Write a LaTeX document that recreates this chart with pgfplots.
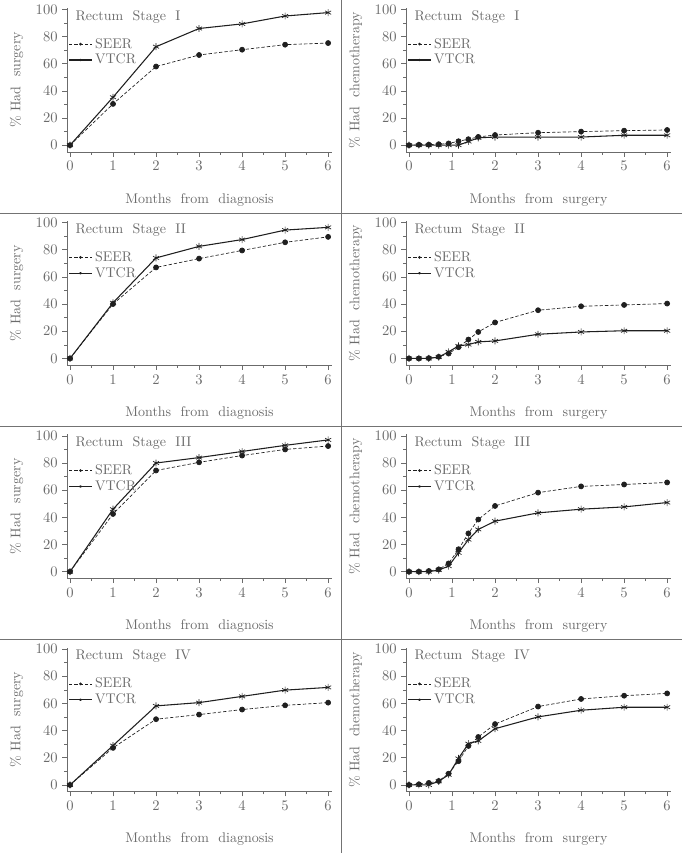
\documentclass[border=0pt]{standalone}
\usepackage{pgfplots}
\pgfplotsset{compat=1.18}

\definecolor{txt}{gray}{0.42}
\definecolor{ink}{gray}{0.12}
\definecolor{frame}{gray}{0.45}

\pgfplotsset{
  panel/.style={
    scale only axis, width=198.75pt, height=108pt,
    xmin=-0.07, xmax=6.09, ymin=-5, ymax=101,
    axis x line*=bottom, axis y line*=left,
    axis line style={txt, line width=0.5pt},
    xtick={0,...,6}, ytick={0,20,...,100},
    minor xtick={0.5,1.5,...,5.5}, minor ytick={10,30,...,90},
    tick align=outside, tick style={txt, line width=0.5pt},
    major tick length=3.5pt, minor tick length=2pt,
    ticklabel style={font=\fontsize{10.5}{12}\selectfont, text=txt},
    label style={font=\fontsize{10.5}{12}\selectfont, text=txt},
    xlabel style={at={(axis description cs:0.5,-0.33)}, anchor=center},
    ylabel style={at={(axis description cs:-0.19,0.5)}, anchor=center},
    clip=false,
    legend style={draw=none, fill=none, at={(axis description cs:0.0,0.82)}, anchor=north west,
      font=\fontsize{10.5}{12}\selectfont, text=txt, row sep=-1pt, inner sep=1pt},
    legend cell align=left,
  },
  seer/.style={ink, line width=0.5pt, dash pattern=on 2.5pt off 1.5pt, mark=*, mark size=1.9pt,
    mark options={solid, fill=ink}},
  vtcr/.style={ink, line width=0.8pt, mark=asterisk, mark size=2.6pt, mark options={solid, line width=0.5pt}},
}

\newcommand{\panel}[7]{%
\begin{axis}[panel, at={(#1,#2)}, xlabel={#4}, ylabel={\% Had\ \ #3}]
\addplot[seer, legend image post style={mark size=0.7pt}] coordinates {#6};
\addlegendentry{SEER}
\addplot[vtcr, legend image post style={mark size=0.9pt}] coordinates {#7};
\addlegendentry{VTCR}
\node[anchor=west, text=txt, font=\fontsize{10.5}{12}\selectfont] at (axis description cs:0.015,0.94) {Rectum\ \ Stage\ \ #5};
\end{axis}}

\begin{document}
\begin{tikzpicture}[x=0.75pt, y=0.75pt]
\useasboundingbox (0,0) rectangle (682,853);
\draw[frame, line width=0.6pt] (341,0) -- (341,853);
\draw[frame, line width=0.6pt] (0,639.75) -- (682,639.75) (0,426.5) -- (682,426.5) (0,213.25) -- (682,213.25);

% Stage I
\panel{50.25pt}{525.75pt}{surgery}{Months\ \ from\ \ diagnosis}{I}
{(0,0) (1,30.4) (2,57.9) (3,66.4) (4,70.3) (5,74.0) (6,75.2)}
{(0,0) (1,35.3) (2,72.5) (3,85.9) (4,89.3) (5,95.1) (6,97.6)}
\panel{304.5pt}{525.75pt}{chemotherapy}{Months\ \ from\ \ surgery}{I}
{(0,0) (0.23,0.3) (0.46,0.4) (0.69,0.7) (0.92,1.3) (1.15,2.9) (1.38,4.4) (1.61,6.1) (2,7.5) (3,9.2) (4,10.0) (5,10.7) (6,11.2)}
{(0,0) (0.23,0) (0.46,0) (0.69,0) (0.92,0) (1.15,0) (1.38,2.7) (1.61,5.4) (2,6.0) (3,6.0) (4,6.0) (5,7.3) (6,7.3)}

% Stage II
\panel{50.25pt}{365.81pt}{surgery}{Months\ \ from\ \ diagnosis}{II}
{(0,0) (1,40.1) (2,67.0) (3,73.5) (4,79.5) (5,85.5) (6,89.5)}
{(0,0) (1,41.0) (2,74.0) (3,82.5) (4,87.5) (5,94.5) (6,96.5)}
\panel{304.5pt}{365.81pt}{chemotherapy}{Months\ \ from\ \ surgery}{II}
{(0,0) (0.23,0) (0.46,0.2) (0.69,1.2) (0.92,3.6) (1.15,8.3) (1.38,13.9) (1.61,19.5) (2,26.5) (3,35.5) (4,38.4) (5,39.4) (6,40.4)}
{(0,0) (0.23,0) (0.46,0) (0.69,1.0) (0.92,4.9) (1.15,9.2) (1.38,10.2) (1.61,12.2) (2,12.9) (3,17.8) (4,19.5) (5,20.4) (6,20.4)}

% Stage III
\panel{50.25pt}{205.88pt}{surgery}{Months\ \ from\ \ diagnosis}{III}
{(0,0) (1,42.5) (2,74.5) (3,80.5) (4,85.5) (5,90.0) (6,92.5)}
{(0,0) (1,46.0) (2,80.0) (3,84.0) (4,88.5) (5,93.0) (6,97.0)}
\panel{304.5pt}{205.88pt}{chemotherapy}{Months\ \ from\ \ surgery}{III}
{(0,0) (0.23,0) (0.46,0.5) (0.69,1.7) (0.92,6.1) (1.15,16.5) (1.38,28.2) (1.61,38.4) (2,48.4) (3,58.2) (4,62.8) (5,64.2) (6,65.7)}
{(0,0) (0.23,0) (0.46,0) (0.69,1.2) (0.92,4.1) (1.15,13.9) (1.38,23.6) (1.61,31.1) (2,37.2) (3,43.3) (4,46.0) (5,47.7) (6,50.9)}

% Stage IV
\panel{50.25pt}{45.94pt}{surgery}{Months\ \ from\ \ diagnosis}{IV}
{(0,0) (1,27.3) (2,48.4) (3,51.8) (4,55.5) (5,58.6) (6,60.6)}
{(0,0) (1,29.0) (2,58.2) (3,60.6) (4,65.2) (5,69.8) (6,71.8)}
\panel{304.5pt}{45.94pt}{chemotherapy}{Months\ \ from\ \ surgery}{IV}
{(0,0) (0.23,0.5) (0.46,1.5) (0.69,2.9) (0.92,8.3) (1.15,17.5) (1.38,28.7) (1.61,35.3) (2,44.8) (3,57.7) (4,63.3) (5,65.7) (6,67.4)}
{(0,0) (0.23,0) (0.46,0) (0.69,2.7) (0.92,7.5) (1.15,19.5) (1.38,30.4) (1.61,32.4) (2,41.4) (3,50.1) (4,55.0) (5,57.2) (6,57.2)}
\end{tikzpicture}
\end{document}
